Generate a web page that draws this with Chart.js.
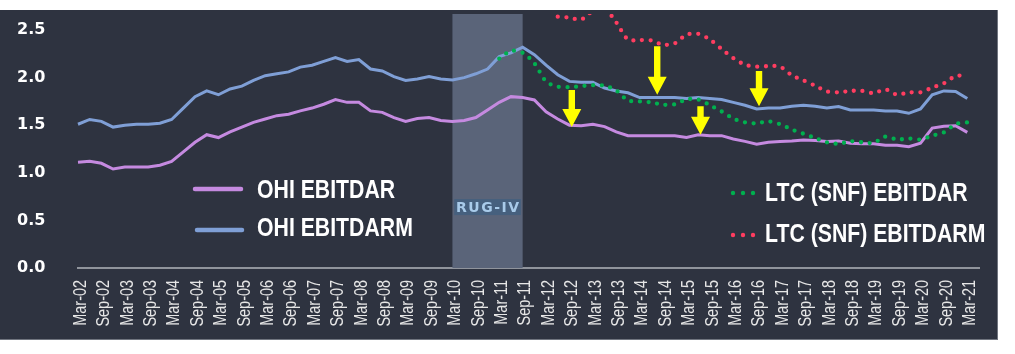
<!DOCTYPE html>
<html><head><meta charset="utf-8">
<script src="https://cdn.jsdelivr.net/npm/chart.js@4.4.0/dist/chart.umd.min.js"></script>
<style>
html,body{margin:0;padding:0;background:#fff;width:1015px;height:354px;overflow:hidden}
#panel{position:absolute;left:0;top:10px;width:998px;height:330px;background:#2e3340;box-shadow:inset -1px -1px 0 #70757f}
canvas{display:block}
</style></head><body>
<div id="panel"><canvas id="c" width="998" height="330"></canvas></div>
<script>
const quarters = [
 'Mar-02','Jun-02','Sep-02','Dec-02','Mar-03','Jun-03','Sep-03','Dec-03','Mar-04','Jun-04','Sep-04','Dec-04',
 'Mar-05','Jun-05','Sep-05','Dec-05','Mar-06','Jun-06','Sep-06','Dec-06','Mar-07','Jun-07','Sep-07','Dec-07',
 'Mar-08','Jun-08','Sep-08','Dec-08','Mar-09','Jun-09','Sep-09','Dec-09','Mar-10','Jun-10','Sep-10','Dec-10',
 'Mar-11','Jun-11','Sep-11','Dec-11','Mar-12','Jun-12','Sep-12','Dec-12','Mar-13','Jun-13','Sep-13','Dec-13',
 'Mar-14','Jun-14','Sep-14','Dec-14','Mar-15','Jun-15','Sep-15','Dec-15','Mar-16','Jun-16','Sep-16','Dec-16',
 'Mar-17','Jun-17','Sep-17','Dec-17','Mar-18','Jun-18','Sep-18','Dec-18','Mar-19','Jun-19','Sep-19','Dec-19',
 'Mar-20','Jun-20','Sep-20','Dec-20','Mar-21','Jun-21'];

const ohiEbitdarm = [1.51,1.56,1.54,1.48,1.50,1.51,1.51,1.52,1.56,1.68,1.80,1.86,1.82,1.88,1.91,1.97,2.02,2.04,2.06,2.11,
 2.13,2.17,2.21,2.17,2.19,2.09,2.07,2.01,1.97,1.985,2.01,1.985,1.975,2.00,2.04,2.09,2.22,2.26,2.32,2.24,
 2.13,2.03,1.96,1.95,1.95,1.89,1.86,1.84,1.79,1.79,1.79,1.79,1.78,1.79,1.78,1.77,1.74,1.71,1.67,1.68,
 1.68,1.70,1.71,1.70,1.68,1.695,1.66,1.66,1.66,1.65,1.65,1.625,1.67,1.82,1.86,1.855,1.78];

const ohiEbitdar = [1.11,1.12,1.10,1.04,1.06,1.06,1.06,1.08,1.12,1.22,1.32,1.40,1.37,1.43,1.48,1.53,1.565,1.60,1.615,1.65,
 1.68,1.72,1.77,1.74,1.74,1.65,1.635,1.58,1.54,1.57,1.58,1.55,1.54,1.55,1.58,1.66,1.74,1.80,1.79,1.765,
 1.64,1.565,1.50,1.495,1.51,1.485,1.43,1.39,1.39,1.39,1.39,1.39,1.37,1.40,1.39,1.39,1.355,1.33,1.30,1.32,
 1.33,1.335,1.345,1.34,1.33,1.335,1.31,1.305,1.305,1.29,1.29,1.275,1.31,1.47,1.49,1.495,1.425];

const ltcEbitdarStart = 'Mar-11';
const ltcEbitdar = [2.20,2.28,2.26,2.15,1.96,1.905,1.90,1.91,1.92,1.915,1.865,1.76,1.75,1.74,1.715,1.72,1.77,1.77,1.71,1.645,
 1.57,1.53,1.52,1.54,1.51,1.455,1.41,1.365,1.32,1.305,1.33,1.32,1.315,1.38,1.35,1.36,1.35,1.39,1.425,1.51,1.53];

const ltcEbitdarmStart = 'Jun-12';
const ltcEbitdarm = [2.64,2.63,2.61,2.70,2.72,2.58,2.40,2.395,2.39,2.345,2.36,2.45,2.46,2.40,2.30,2.205,2.135,2.115,2.12,2.115,
 2.025,1.97,1.915,1.855,1.845,1.86,1.86,1.837,1.875,1.82,1.845,1.845,1.895,1.94,2.015,2.02];

const yTickValues = [0,0.5,1.0,1.5,2.0,2.5];
const xTickMonths = ['Mar','Sep'];
const bandFrom = 'Mar-10', bandTo = 'Sep-11', bandLabel = 'RUG-IV';
// arrows: category position (index), from value, to value
const arrowX = [42.2, 49.5, 53.2, 58.2];
const arrowFrom = [1.87, 2.33, 1.70, 2.07];
const arrowTo = [1.48, 1.82, 1.40, 1.70];

const seriesNames = ['OHI EBITDAR','OHI EBITDARM','LTC (SNF) EBITDAR','LTC (SNF) EBITDARM'];
const C = {purple:'#c58ae0', blue:'#7f9fd6', green:'#00b04f', red:'#ff3d60', yellow:'#ffff00'};

function offsetSeries(start, vals){
  const s = quarters.indexOf(start);
  return vals.map((v,k)=>({x: quarters[s+k], y: v}));
}

// condensed text: draw with a horizontal squeeze (no condensed font installed)
function condensedText(ctx, text, x, y, squeeze){
  ctx.save();
  ctx.translate(x, y);
  ctx.scale(squeeze, 1);
  ctx.fillText(text, 0, 0);
  ctx.restore();
}

const decor = {
  id:'decor',
  beforeDatasetsDraw(chart){
    const {ctx, chartArea:a, scales:{x,y}} = chart;
    const x0 = x.getPixelForValue(quarters.indexOf(bandFrom));
    const x1 = x.getPixelForValue(quarters.indexOf(bandTo));
    ctx.save();
    ctx.fillStyle = '#5a6479';
    ctx.fillRect(x0, a.top, x1-x0, a.bottom-a.top);
    const cy = y.getPixelForValue(0.64);
    const cx = (x0+x1)/2;
    ctx.font = 'bold 14px "DejaVu Sans"';
    ctx.letterSpacing = '1.5px';
    const w = ctx.measureText(bandLabel).width;
    ctx.fillStyle = '#46607e';
    ctx.fillRect(cx - w/2 - 1, cy - 8, w + 2, 16);
    ctx.fillStyle = '#a9cbea';
    ctx.textAlign = 'center'; ctx.textBaseline = 'middle';
    ctx.fillText(bandLabel, cx + 0.75, cy + 1);
    ctx.restore();
  },
  afterDatasetsDraw(chart){
    const {ctx, scales:{x,y}} = chart;
    ctx.save();
    ctx.fillStyle = C.yellow;
    arrowX.forEach((ax,i)=>{
      const px = x.getPixelForValue(ax);
      const top = y.getPixelForValue(arrowFrom[i]);
      const tip = y.getPixelForValue(arrowTo[i]);
      const hh = 18, hw = 9.5, sw = 3.2;
      ctx.beginPath();
      ctx.moveTo(px - sw, top);
      ctx.lineTo(px + sw, top);
      ctx.lineTo(px + sw, tip - hh);
      ctx.lineTo(px + hw, tip - hh);
      ctx.lineTo(px, tip);
      ctx.lineTo(px - hw, tip - hh);
      ctx.lineTo(px - sw, tip - hh);
      ctx.closePath();
      ctx.fill();
    });
    ctx.restore();
  },
  afterDraw(chart){
    const {ctx, chartArea:a, scales:{x}} = chart;
    ctx.save();
    // x tick labels, rotated, condensed
    ctx.font = '19px "Liberation Sans", Arimo, sans-serif';
    ctx.fillStyle = '#e6e6e6';
    ctx.textAlign = 'right';
    ctx.textBaseline = 'middle';
    quarters.forEach((q,i)=>{
      if (!xTickMonths.includes(q.slice(0,3))) return;
      const px = x.getPixelForValue(i);
      ctx.save();
      ctx.translate(px + 2.5, a.bottom + 12);
      ctx.rotate(-Math.PI/2);
      ctx.scale(0.76, 1);
      ctx.fillText(q, 0, 0);
      ctx.restore();
    });

    // legend
    ctx.font = 'bold 25px "Liberation Sans", Arimo, sans-serif';
    ctx.textBaseline = 'alphabetic';
    ctx.textAlign = 'left';
    ctx.lineCap = 'round';
    ctx.lineWidth = 4.5;
    ctx.strokeStyle = C.purple;
    ctx.beginPath(); ctx.moveTo(195,179); ctx.lineTo(241,179); ctx.stroke();
    ctx.strokeStyle = C.blue;
    ctx.beginPath(); ctx.moveTo(197,220); ctx.lineTo(242,220); ctx.stroke();
    [[C.green,183],[C.red,225]].forEach(([col,yy])=>{
      ctx.fillStyle = col;
      [733,743,753].forEach(xx=>{ctx.beginPath();ctx.arc(xx,yy,2.2,0,Math.PI*2);ctx.fill();});
    });
    ctx.fillStyle = '#ffffff';
    const sq = 0.85;
    condensedText(ctx, seriesNames[0], 257, 188, sq);
    condensedText(ctx, seriesNames[1], 257, 226, sq);
    condensedText(ctx, seriesNames[2], 765, 191, sq);
    condensedText(ctx, seriesNames[3], 765, 232, sq);
    ctx.restore();
  }
};

new Chart(document.getElementById('c'), {
  type:'line',
  data:{
    labels: quarters,
    datasets:[
      {label:seriesNames[2], data:offsetSeries(ltcEbitdarStart, ltcEbitdar), borderColor:C.green, borderWidth:4.3,
       borderDash:[0,8.6], borderCapStyle:'round', pointRadius:0, tension:0.3, fill:false, order:0},
      {label:seriesNames[3], data:offsetSeries(ltcEbitdarmStart, ltcEbitdarm), borderColor:C.red, borderWidth:4.3,
       borderDash:[0,8.6], borderCapStyle:'round', pointRadius:0, tension:0.3, fill:false, order:1},
      {label:seriesNames[1], data:ohiEbitdarm, borderColor:C.blue, borderWidth:3, pointRadius:0, tension:0, order:2},
      {label:seriesNames[0], data:ohiEbitdar, borderColor:C.purple, borderWidth:3, pointRadius:0, tension:0, order:3}
    ]
  },
  options:{
    responsive:false, animation:false, events:[],
    layout:{padding:{left:17,right:19,top:4,bottom:0}},
    plugins:{legend:{display:false}, tooltip:{enabled:false}},
    scales:{
      x:{
        type:'category', offset:false,
        grid:{display:false, drawTicks:false},
        border:{display:true, color:'#90949c', width:2},
        ticks:{display:false},
        afterFit(s){ s.height = 72; s.paddingLeft = 0; s.paddingRight = 0; }
      },
      y:{
        min:0, max:2.668,
        grid:{display:false, drawTicks:false},
        border:{display:false},
        ticks:{crossAlign:'far', color:'#ffffff', padding:0,
          font:{family:'DejaVu Sans', weight:'bold', size:16},
          callback:v=>Number(v).toFixed(1)},
        afterBuildTicks(s){ s.ticks = yTickValues.map(v=>({value:v})); },
        afterFit(s){ s.width = 61; s.paddingTop = 0; s.paddingBottom = 0; }
      }
    }
  },
  plugins:[decor]
});
</script>
</body></html>
